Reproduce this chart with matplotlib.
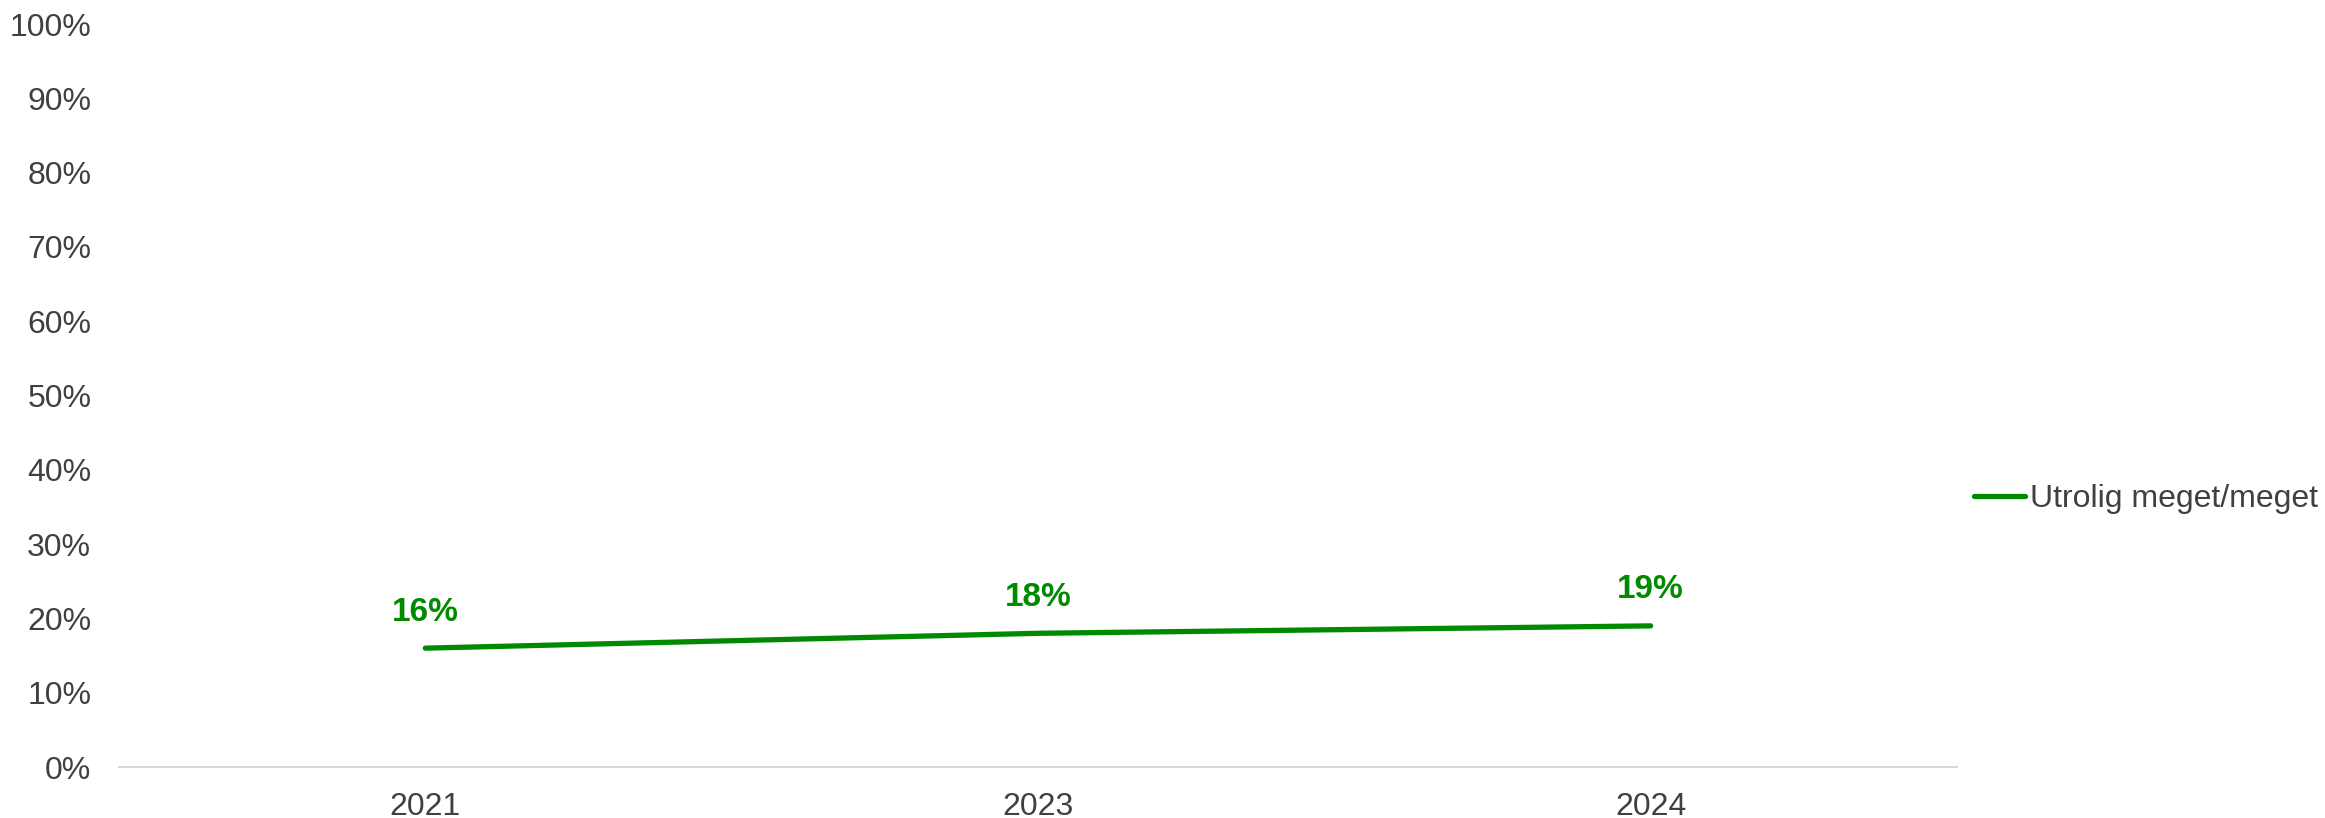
import matplotlib.pyplot as plt
from matplotlib.ticker import FuncFormatter

# Data
years = ['2021', '2023', '2024']
verdier = [16, 18, 19]
serie_navn = 'Utrolig meget/meget'

gronn = '#008a00'
tekst_farge = '#404040'

plt.rcParams['font.family'] = ['Liberation Sans', 'DejaVu Sans']

fig = plt.figure(figsize=(23.25, 8.18), dpi=100)
ax = fig.add_axes([0.0512, 0.0623, 0.7905, 0.9083])

x = range(len(years))
ax.plot(x, verdier, color=gronn, linewidth=3.8, solid_capstyle='round', label=serie_navn)

for xi, v in zip(x, verdier):
    ax.annotate(f'{v}%', (xi, v), xytext=(0, 26), textcoords='offset points',
                ha='center', va='center', fontsize=24, fontweight='bold', color=gronn)

ax.set_xlim(-0.5, len(years) - 0.5)
ax.set_ylim(0, 100)
ax.set_xticks(list(x))
ax.set_xticklabels(years)
ax.set_yticks(range(0, 101, 10))
ax.yaxis.set_major_formatter(FuncFormatter(lambda v, p: f'{int(v)}%'))
ax.tick_params(axis='both', length=0, labelsize=23, labelcolor=tekst_farge)
ax.tick_params(axis='y', pad=20)
ax.tick_params(axis='x', pad=18)

for side in ['top', 'right', 'left']:
    ax.spines[side].set_visible(False)
ax.spines['bottom'].set_color('#d9d9d9')
ax.spines['bottom'].set_linewidth(1.5)

leg = fig.legend(loc='center left', bbox_to_anchor=(0.849, 1 - 499 / 818), frameon=False,
                 fontsize=23, handlelength=1.6, handletextpad=0.15, borderaxespad=0,
                 borderpad=0)
for t in leg.get_texts():
    t.set_color(tekst_farge)

fig.savefig('out.png', dpi=100)
